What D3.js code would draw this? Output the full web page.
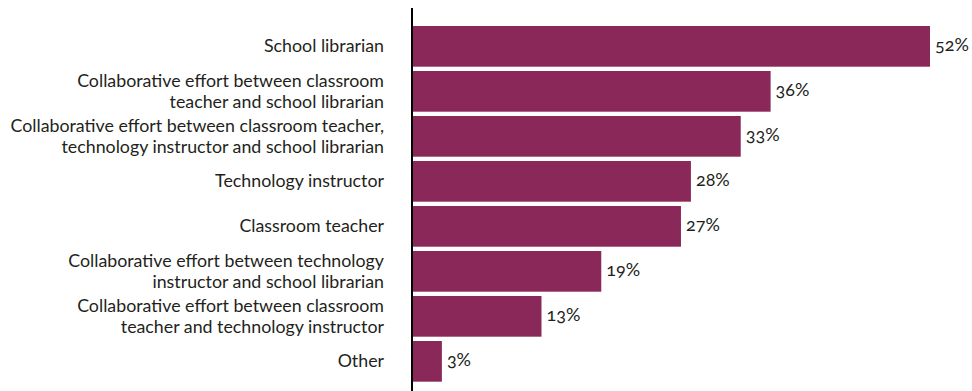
<!DOCTYPE html>
<html>
<head>
<meta charset="utf-8">
<script src="https://cdn.jsdelivr.net/npm/d3@7"></script>
<style>
  html, body { margin: 0; padding: 0; background: #ffffff; }
  svg { display: block; }
  .cat { font-family: Lato, "Noto Sans", sans-serif; font-size: 17.8px; fill: #231f20; }
  .val { font-family: Lato, "Noto Sans", sans-serif; font-size: 18px; fill: #231f20; font-variant-numeric: oldstyle-nums; }
</style>
</head>
<body>
<svg id="chart" width="972" height="391"></svg>
<script>
// Who is responsible for teaching information literacy (share of respondents)
const categories = [
  ["School librarian"],
  ["Collaborative effort between classroom", "teacher and school librarian"],
  ["Collaborative effort between classroom teacher,", "technology instructor and school librarian"],
  ["Technology instructor"],
  ["Classroom teacher"],
  ["Collaborative effort between technology", "instructor and school librarian"],
  ["Collaborative effort between classroom", "teacher and technology instructor"],
  ["Other"]
];
const values = [52, 36, 33, 28, 27, 19, 13, 3];
const valueLabels = ["52%", "36%", "33%", "28%", "27%", "19%", "13%", "3%"];

const width = 972, height = 391;
const axisX = 412;
const barColor = "#8a2859";

const svg = d3.select("#chart");
const keys = categories.map((c, i) => i);

const x = d3.scaleLinear().domain([0, 52]).range([axisX, 930]);
const y = d3.scaleBand().domain(keys).range([26, 381.7]).paddingInner(0.0956).paddingOuter(0);

// bars
svg.append("g")
  .selectAll("rect")
  .data(values)
  .join("rect")
  .attr("x", x(0))
  .attr("y", (d, i) => y(i))
  .attr("width", d => x(d) - x(0))
  .attr("height", y.bandwidth())
  .attr("fill", barColor);

// value labels
svg.append("g")
  .selectAll("text")
  .data(values)
  .join("text")
  .attr("class", "val")
  .attr("x", d => x(d) + 5)
  .attr("y", (d, i) => y(i) + y.bandwidth() / 2 + 5)
  .text((d, i) => valueLabels[i]);

// category labels, right aligned, one or two lines
const lineH = 21.5;
const catG = svg.append("g");
categories.forEach((lines, i) => {
  const cy = y(i) + y.bandwidth() / 2 + 6;
  const t = catG.append("text")
    .attr("class", "cat")
    .attr("text-anchor", "end");
  lines.forEach((ln, j) => {
    t.append("tspan")
      .attr("x", 384)
      .attr("y", cy + (j - (lines.length - 1) / 2) * lineH)
      .text(ln);
  });
});

// vertical baseline axis
svg.append("line")
  .attr("x1", axisX).attr("x2", axisX)
  .attr("y1", 8).attr("y2", height)
  .attr("stroke", "#000")
  .attr("stroke-width", 2);
</script>
</body>
</html>
